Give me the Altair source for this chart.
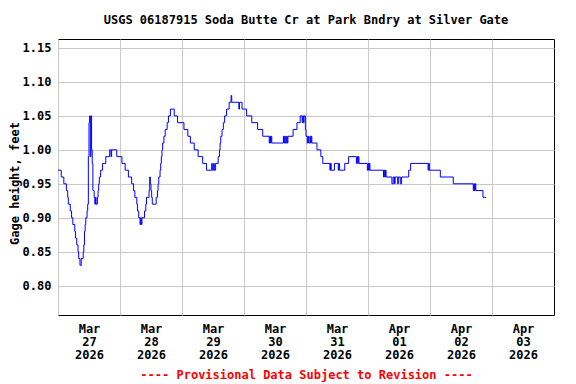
import altair as alt
import pandas as pd

TITLE = "USGS 06187915 Soda Butte Cr at Park Bndry at Silver Gate"
Y_TITLE = "Gage height, feet"
NOTE = "---- Provisional Data Subject to Revision ----"

# hours after 2026-03-27 00:00 where the reading changes, and the new reading (feet)
hours = [0, 1.25, 2.25, 3.25, 3.75, 4.0, 4.75, 5.25, 5.75, 6.5, 6.75, 7.25, 7.75, 8.0, 8.5,
         9.0, 9.75, 10.0, 10.25, 10.5, 10.75, 11.25, 11.5, 11.75, 12.0, 12.25, 12.5, 12.75,
         13.0, 13.25, 13.5, 14.0, 14.25, 14.5, 14.75, 15.25, 15.5, 15.75, 16.0, 16.5, 17.25,
         18.5, 20.0, 20.5, 20.75, 22.75, 24.75, 26.0, 27.25, 28.5, 29.25, 29.75, 30.5, 30.75,
         31.25, 31.75, 32.0, 32.25, 32.5, 33.5, 34.0, 34.25, 35.25, 35.5, 35.75, 36.0, 36.25,
         36.5, 38.0, 38.5, 38.75, 39.0, 39.5, 39.75, 40.0, 40.25, 40.5, 41.0, 41.5, 42.25,
         42.75, 43.5, 45.0, 46.25, 48.75, 50.25, 51.25, 52.75, 54.25, 56.0, 57.5, 59.5, 59.75,
         60.25, 60.5, 61.0, 62.0, 62.5, 62.75, 63.0, 63.5, 64.0, 64.5, 65.25, 66.25, 67.0,
         67.25, 70.0, 70.25, 71.25, 73.0, 75.0, 77.25, 79.25, 81.75, 82.0, 82.25, 82.5, 82.75,
         87.25, 87.5, 87.75, 88.0, 88.5, 88.75, 89.0, 91.0, 92.5, 93.75, 94.5, 94.75, 95.0,
         95.25, 95.75, 96.0, 96.5, 96.75, 97.0, 97.5, 97.75, 98.0, 98.25, 100.25, 101.75,
         102.5, 105.25, 105.5, 105.75, 107.0, 108.5, 108.75, 109.0, 111.0, 112.5, 115.5,
         115.75, 116.0, 116.25, 116.5, 119.75, 120.0, 120.25, 120.5, 120.75, 126.0, 126.25,
         126.5, 126.75, 127.0, 129.25, 129.75, 130.25, 130.5, 131.5, 131.75, 132.5, 133.0,
         135.75, 136.5, 143.25, 143.5, 143.75, 148.0, 153.0, 160.75, 161.0, 161.25, 161.5,
         161.75, 164.5, 165.75]
gage = [0.97, 0.96, 0.95, 0.94, 0.93, 0.92, 0.91, 0.90, 0.89, 0.88, 0.87, 0.86, 0.85, 0.84, 0.83,
        0.84, 0.85, 0.86, 0.88, 0.89, 0.90, 0.91, 0.92, 0.99, 1.04, 1.05, 0.99, 1.05,
        1.00, 0.98, 0.94, 0.93, 0.92, 0.93, 0.92, 0.93, 0.94, 0.95, 0.96, 0.97, 0.98,
        0.99, 1.00, 0.99, 1.00, 0.99, 0.98, 0.97, 0.96, 0.95, 0.94, 0.93, 0.92, 0.91,
        0.90, 0.89, 0.90, 0.89, 0.90, 0.91, 0.92, 0.93, 0.94, 0.96, 0.95, 0.94, 0.93,
        0.92, 0.93, 0.94, 0.95, 0.96, 0.97, 0.98, 0.99, 1.00, 1.01, 1.02, 1.03, 1.04,
        1.05, 1.06, 1.05, 1.04, 1.03, 1.02, 1.01, 1.00, 0.99, 0.98, 0.97, 0.98, 0.97,
        0.98, 0.97, 0.98, 0.99, 1.00, 1.01, 1.02, 1.03, 1.04, 1.05, 1.06, 1.07, 1.08,
        1.07, 1.06, 1.07, 1.06, 1.05, 1.04, 1.03, 1.02, 1.01, 1.02, 1.01, 1.02, 1.01,
        1.02, 1.01, 1.02, 1.01, 1.02, 1.01, 1.02, 1.03, 1.04, 1.05, 1.04, 1.05, 1.04,
        1.05, 1.03, 1.02, 1.01, 1.02, 1.01, 1.02, 1.01, 1.02, 1.01, 1.00, 0.99,
        0.98, 0.97, 0.98, 0.97, 0.98, 0.97, 0.98, 0.97, 0.98, 0.99, 0.98,
        0.99, 0.98, 0.99, 0.98, 0.97, 0.98, 0.97, 0.98, 0.97, 0.96, 0.97,
        0.96, 0.97, 0.96, 0.95, 0.96, 0.95, 0.96, 0.95, 0.96, 0.95, 0.96,
        0.97, 0.98, 0.97, 0.98, 0.97, 0.96, 0.95, 0.94, 0.95, 0.94, 0.95,
        0.94, 0.93, 0.93]

y_ticks = [0.80, 0.85, 0.90, 0.95, 1.00, 1.05, 1.10, 1.15]
day_ticks = [27, 28, 29, 30, 31, 1, 2, 3]
day_months = [3, 3, 3, 3, 3, 4, 4, 4]

base = pd.Timestamp("2026-03-27 00:00:00")
df = pd.DataFrame({
    "time": [(base + pd.Timedelta(hours=h)).strftime("%Y-%m-%dT%H:%M:%S") for h in hours],
    "gage": gage,
})

FONT = "DejaVu Sans Mono"

x_values = [alt.DateTime(year=2026, month=m, date=d) for m, d in zip(day_months, day_ticks)]

chart = alt.Chart(df).mark_line(
    interpolate="step-after", color="#0000ff", strokeWidth=1
).encode(
    x=alt.X(
        "time:T",
        scale=alt.Scale(domain=[alt.DateTime(year=2026, month=3, date=27),
                                alt.DateTime(year=2026, month=4, date=4)]),
        axis=alt.Axis(
            values=x_values,
            labelExpr="[timeFormat(datum.value, '%b'), timeFormat(datum.value, '%d'), timeFormat(datum.value, '%Y')]",
            labelOffset=31,
            labelPadding=8,
            labelBaseline="top",
            labelLineHeight=13,
            labelFlush=False,
            labelOverlap=False,
            labelBound=False,
            ticks=False,
            domain=False,
            grid=True,
            gridColor="#c8c8c8",
            gridWidth=1,
            title=NOTE,
            titleColor="#ff0000",
            titleY=59,
            titleBaseline="middle",
        ),
    ),
    y=alt.Y(
        "gage:Q",
        scale=alt.Scale(domain=[0.7568, 1.1632], nice=False, zero=False),
        axis=alt.Axis(
            values=y_ticks,
            format=".2f",
            ticks=False,
            domain=False,
            grid=True,
            gridColor="#c8c8c8",
            gridWidth=1,
            labelPadding=7,
            title=Y_TITLE,
            titleX=-44,
            titleY=144,
            titleAngle=270,
            titleAlign="center",
            titleBaseline="middle",
        ),
    ),
).properties(
    width=496,
    height=276,
    title=alt.TitleParams(TITLE, font=FONT, fontSize=12, fontWeight="bold",
                          offset=12, anchor="middle", color="#000000"),
    autosize=alt.AutoSizeParams(type="none"),
    padding={"left": 50, "top": 31, "right": 14, "bottom": 70},
).configure_view(
    stroke="#000000", strokeWidth=1
).configure_axis(
    labelFont=FONT, labelFontSize=12, labelFontWeight="bold", labelColor="#000000",
    titleFont=FONT, titleFontSize=12, titleFontWeight="bold",
)

chart.save("out.html", embed_options={"renderer": "svg", "actions": False})
